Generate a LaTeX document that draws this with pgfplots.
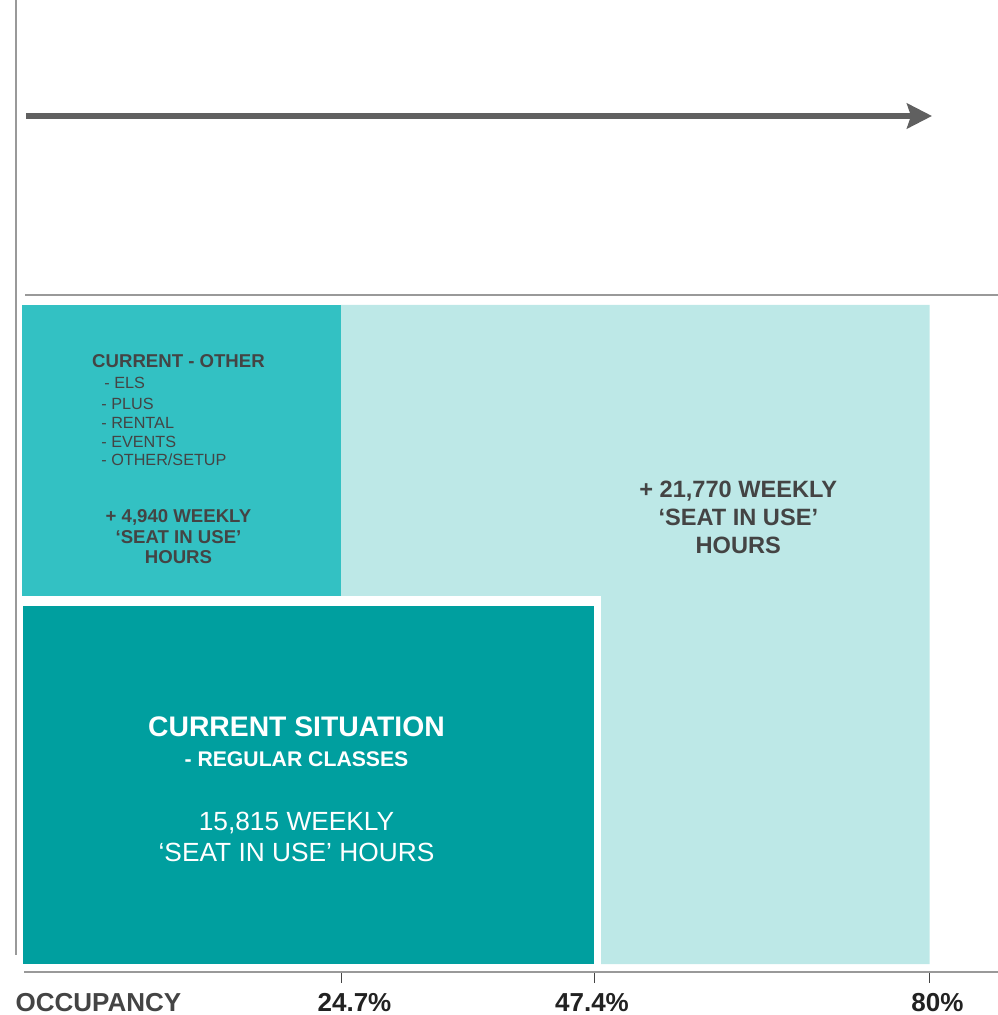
\documentclass[border=0pt]{standalone}
\usepackage{fontspec}
\setmainfont{Liberation Sans}
\usepackage{pgfplots}
\pgfplotsset{compat=1.18}
\usetikzlibrary{arrows.meta}
\definecolor{darkteal}{HTML}{009F9F}
\definecolor{midteal}{HTML}{33C1C3}
\definecolor{lightteal}{HTML}{BDE8E7}
\definecolor{textgrey}{HTML}{444444}
\definecolor{labelgrey}{HTML}{222222}
\definecolor{linegrey}{HTML}{999999}
\definecolor{arrowgrey}{HTML}{606060}
\newcommand{\fs}[1]{\fontsize{#1bp}{#1bp}\selectfont}
\begin{document}
\begin{tikzpicture}
\begin{axis}[
  x=1bp, y=1bp,
  xmin=24, xmax=998, ymin=43.5, ymax=1015,
  axis x line=bottom, axis y line=none,
  x axis line style={-, draw=linegrey, line width=2bp},
  xtick={341,594,929}, xticklabels={},
  tick align=outside, major tick length=11bp,
  xtick style={draw=textgrey, line width=1bp},
  extra x ticks={98.5,354.5,592,937.5},
  extra x tick labels={{\color{textgrey}OCCUPANCY},24.7\%,47.4\%,80\%},
  extra x tick style={major tick length=0bp, xtick style={draw=none},
    xticklabel style={anchor=base, yshift=-40bp, font=\bfseries\fs{26}, text=labelgrey}},
  clip=false,
]
% light area: + 21,770 weekly seat-in-use hours
\addplot[draw=none, fill=lightteal] coordinates {(340.5,710) (929.5,710) (929.5,51) (601,51) (601,419) (340.5,419)};
% medium area: + 4,940 weekly seat-in-use hours (current - other)
\addplot[draw=none, fill=midteal] coordinates {(22,710) (340.5,710) (340.5,419) (22,419)};
% dark area: 15,815 weekly seat-in-use hours (current - regular classes)
\addplot[draw=none, fill=darkteal] coordinates {(23,409) (594,409) (594,51) (23,51)};

\coordinate (bbSW) at (axis cs:0,0);
\coordinate (bbNE) at (axis cs:998,1015);

% decorative lines
\draw[linegrey, line width=1.8bp] (axis cs:16,1015) -- (axis cs:16,60);
\draw[linegrey, line width=1.6bp] (axis cs:25,720) -- (axis cs:998,720);
\draw[arrowgrey, line width=6bp, -{Stealth[length=25bp 0, width=25bp 0, inset=4bp 0]}] (axis cs:26,899) -- (axis cs:932,899);

% texts in the medium block
\node[anchor=base, text=textgrey, font=\bfseries\fs{18.6}, inner sep=0pt] at (axis cs:178.5,647.7) {CURRENT - OTHER};
\node[anchor=base west, text=textgrey, font=\fs{16.2}, inner sep=0pt] at (axis cs:104.2,626.7) {- ELS};
\node[anchor=base west, text=textgrey, font=\fs{16.2}, inner sep=0pt] at (axis cs:101.2,605) {- PLUS};
\node[anchor=base west, text=textgrey, font=\fs{16.2}, inner sep=0pt] at (axis cs:101.2,586.7) {- RENTAL};
\node[anchor=base west, text=textgrey, font=\fs{16.2}, inner sep=0pt] at (axis cs:101.2,567.7) {- EVENTS};
\node[anchor=base west, text=textgrey, font=\fs{16.2}, inner sep=0pt] at (axis cs:101.2,549) {- OTHER/SETUP};
\node[anchor=base, text=textgrey, font=\bfseries\fs{18.6}, inner sep=0pt] at (axis cs:178.5,492.3) {+ 4,940 WEEKLY};
\node[anchor=base, text=textgrey, font=\bfseries\fs{18.6}, inner sep=0pt] at (axis cs:178.5,471) {‘SEAT IN USE’};
\node[anchor=base, text=textgrey, font=\bfseries\fs{18.6}, inner sep=0pt] at (axis cs:178.5,451.7) {HOURS};

% texts in the light block
\node[anchor=base, text=textgrey, font=\bfseries\fs{23.6}, inner sep=0pt] at (axis cs:738.3,517) {+ 21,770 WEEKLY};
\node[anchor=base, text=textgrey, font=\bfseries\fs{23.6}, inner sep=0pt] at (axis cs:738.3,489) {‘SEAT IN USE’};
\node[anchor=base, text=textgrey, font=\bfseries\fs{23.6}, inner sep=0pt] at (axis cs:738.3,461) {HOURS};

% texts in the dark block
\node[anchor=base, text=white, font=\bfseries\fs{28.3}, inner sep=0pt] at (axis cs:296.5,278.3) {CURRENT SITUATION};
\node[anchor=base, text=white, font=\bfseries\fs{21.2}, inner sep=0pt] at (axis cs:296.5,248.3) {- REGULAR CLASSES};
\node[anchor=base, text=white, font=\fs{26.3}, inner sep=0pt] at (axis cs:296.5,184.3) {15,815 WEEKLY};
\node[anchor=base, text=white, font=\fs{26.3}, inner sep=0pt] at (axis cs:296.5,153.3) {‘SEAT IN USE’ HOURS};
\end{axis}
\pgfresetboundingbox
\useasboundingbox (bbSW) rectangle (bbNE);
\end{tikzpicture}
\end{document}
